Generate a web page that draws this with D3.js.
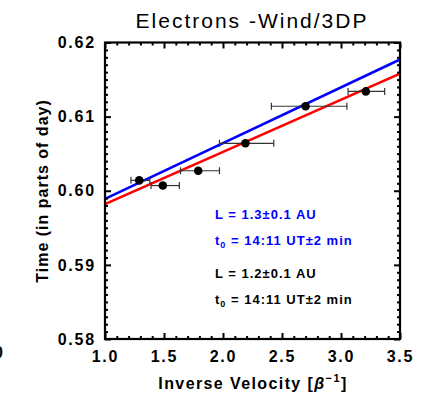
<!DOCTYPE html>
<html><head><meta charset="utf-8">
<script src="https://cdn.jsdelivr.net/npm/d3@7"></script>
<style>
html,body{margin:0;padding:0;background:#fff;}
svg{display:block;}
text{font-family:"Liberation Sans",Arial,sans-serif;}
</style></head>
<body>
<svg id="c" width="430" height="396"></svg>
<script>
// ---- data ----
const invVelocity = [1.29, 1.49, 1.79, 2.19, 2.70, 3.21];
const timeDay     = [0.6014, 0.6007, 0.6027, 0.6064, 0.6114, 0.6134];
const xErrLow     = [1.22, 1.39, 1.64, 1.97, 2.41, 3.06];
const xErrHigh    = [1.38, 1.63, 1.97, 2.43, 3.05, 3.37];
const blueFitX = [1.0, 3.5];
const blueFitY = [0.5989, 0.6177];
const redFitX  = [1.0, 3.5];
const redFitY  = [0.5982, 0.6158];
const xTicks = [1.0, 1.5, 2.0, 2.5, 3.0, 3.5];
const yTicks = [0.58, 0.59, 0.60, 0.61, 0.62];

const svg = d3.select("#c");
const L = 105, R = 400, T = 42.5, B = 339;
const x = d3.scaleLinear().domain([1.0, 3.5]).range([L, R]);
const y = d3.scaleLinear().domain([0.58, 0.62]).range([B, T]);

// clip
svg.append("clipPath").attr("id","clip").append("rect")
  .attr("x", L).attr("y", T).attr("width", R-L).attr("height", B-T);

// title
svg.append("text").attr("x", 252).attr("y", 28).attr("text-anchor","middle")
  .attr("font-size", 21).attr("letter-spacing", 2).text("Electrons -Wind/3DP");

// fit lines
const line = d3.line().x(d=>x(d[0])).y(d=>y(d[1]));
const gFit = svg.append("g").attr("clip-path","url(#clip)");
gFit.append("path").datum(blueFitX.map((v,i)=>[v, blueFitY[i]]))
  .attr("d", line).attr("stroke","#0000ff").attr("stroke-width",2.6).attr("fill","none");
gFit.append("path").datum(redFitX.map((v,i)=>[v, redFitY[i]]))
  .attr("d", line).attr("stroke","#ff0000").attr("stroke-width",2.6).attr("fill","none");

// error bars
const pts = invVelocity.map((v,i)=>({x:v, y:timeDay[i], lo:xErrLow[i], hi:xErrHigh[i]}));
const gErr = svg.append("g").attr("stroke","#333").attr("stroke-width",1.2);
gErr.selectAll("line.h").data(pts).enter().append("line")
  .attr("x1", d=>x(d.lo)).attr("x2", d=>x(d.hi)).attr("y1", d=>y(d.y)).attr("y2", d=>y(d.y));
gErr.selectAll("line.l").data(pts).enter().append("line")
  .attr("x1", d=>x(d.lo)).attr("x2", d=>x(d.lo)).attr("y1", d=>y(d.y)-3.5).attr("y2", d=>y(d.y)+3.5);
gErr.selectAll("line.r").data(pts).enter().append("line")
  .attr("x1", d=>x(d.hi)).attr("x2", d=>x(d.hi)).attr("y1", d=>y(d.y)-3.5).attr("y2", d=>y(d.y)+3.5);
svg.append("g").selectAll("circle").data(pts).enter().append("circle")
  .attr("cx", d=>x(d.x)).attr("cy", d=>y(d.y)).attr("r", 4.3).attr("fill","#000");

// axes
const fmt = d3.format(".1f"), fmty = d3.format(".2f");
const axB = d3.axisBottom(x).tickValues(xTicks).tickSize(-6).tickPadding(12).tickFormat(fmt);
const axT = d3.axisTop(x).tickValues(xTicks).tickSize(-6).tickFormat("");
const axLf = d3.axisLeft(y).tickValues(yTicks).tickSize(-6).tickPadding(9).tickFormat(fmty);
const axRt = d3.axisRight(y).tickValues(yTicks).tickSize(-6).tickFormat("");
const xMinor = d3.range(0, 26).map(i => 1.0 + i*0.1).filter(v => xTicks.every(t => Math.abs(t-v) > 1e-6));
const yMinor = d3.range(0, 41).map(i => 0.58 + i*0.001).filter(v => yTicks.every(t => Math.abs(t-v) > 1e-7));
const minorB = d3.axisBottom(x).tickValues(xMinor).tickSize(-3).tickFormat("");
const minorT = d3.axisTop(x).tickValues(xMinor).tickSize(-3).tickFormat("");
const minorL = d3.axisLeft(y).tickValues(yMinor).tickSize(-3).tickFormat("");
const minorR = d3.axisRight(y).tickValues(yMinor).tickSize(-3).tickFormat("");

function draw(ax, tr){
  const g = svg.append("g").attr("transform", tr).call(ax);
  g.select(".domain").remove();
  g.selectAll(".tick line").attr("stroke","#000").attr("stroke-width",2);
  g.selectAll(".tick text").attr("fill","#000").attr("font-size",16).attr("font-weight","bold")
    .attr("letter-spacing",1.8).attr("font-family","'Liberation Sans',Arial,sans-serif");
  return g;
}
draw(axB, `translate(0,${B})`);
draw(axT, `translate(0,${T})`);
draw(axLf, `translate(${L},0)`);
draw(axRt, `translate(${R},0)`);
draw(minorB, `translate(0,${B})`);
draw(minorT, `translate(0,${T})`);
draw(minorL, `translate(${L},0)`);
draw(minorR, `translate(${R},0)`);

svg.append("rect").attr("x", L).attr("y", T).attr("width", R-L).attr("height", B-T)
  .attr("fill","none").attr("stroke","#000").attr("stroke-width",2.2);

// axis labels
const xl = svg.append("text").attr("x", 253).attr("y", 389).attr("text-anchor","middle")
  .attr("font-size",16).attr("font-weight","bold").attr("letter-spacing",1.4);
xl.append("tspan").text("Inverse Velocity [");
xl.append("tspan").text("β").attr("font-style","italic");
xl.append("tspan").text("−1").attr("font-size",11).attr("dy",-7);
xl.append("tspan").text("]").attr("dy",7);

svg.append("text").attr("transform","translate(48,191) rotate(-90)").attr("text-anchor","middle")
  .attr("font-size",16).attr("font-weight","bold").attr("letter-spacing",1)
  .text("Time (in parts of day)");

// annotations
function ann(yy, col, a){
  svg.append("text").attr("x", 215).attr("y", yy).attr("fill", col)
    .attr("font-size",13).attr("font-weight","bold").attr("letter-spacing",1).text(a);
  const t2 = svg.append("text").attr("x", 215).attr("y", yy+26).attr("fill", col)
    .attr("font-size",13).attr("font-weight","bold").attr("letter-spacing",1);
  t2.append("tspan").text("t");
  t2.append("tspan").text("0").attr("font-size",9).attr("dy",3);
  t2.append("tspan").text(" = 14:11 UT±2 min").attr("dy",-3);
}
ann(219, "#0000ff", "L = 1.3±0.1 AU");
ann(278, "#000000", "L = 1.2±0.1 AU");

// clipped neighbour label at left edge (cut off in the reference too)
svg.append("text").attr("x", -6).attr("y", 358).attr("font-size",16).attr("font-weight","bold").text("0");
</script>
</body></html>
